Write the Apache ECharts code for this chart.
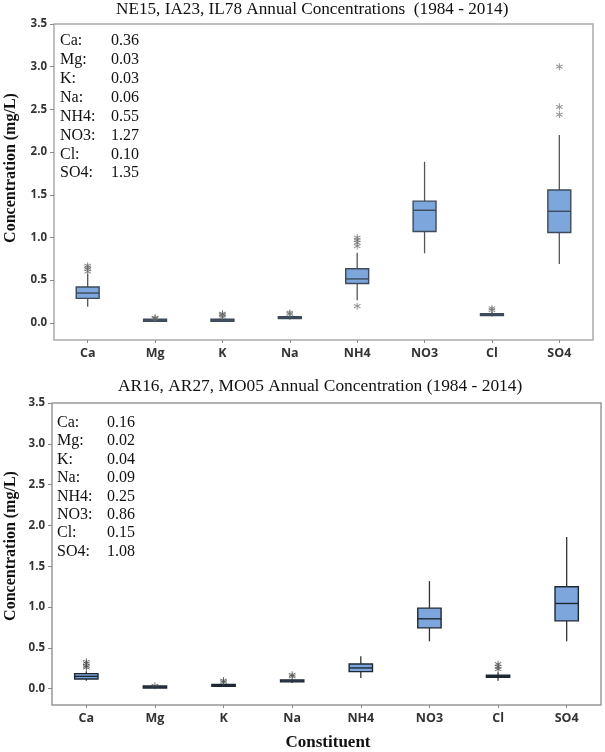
<!DOCTYPE html>
<html><head><meta charset="utf-8">
<script src="https://cdn.jsdelivr.net/npm/echarts@6/dist/echarts.min.js"></script>
<style>html,body{margin:0;padding:0;background:#fff}#c{width:605px;height:752px}</style>
</head><body><div id="c"></div>
<script>
const categories = ['Ca', 'Mg', 'K', 'Na', 'NH4', 'NO3', 'Cl', 'SO4'];
const yTicks = [0, 0.5, 1.0, 1.5, 2.0, 2.5, 3.0, 3.5];
const topTitle = 'NE15, IA23, IL78 Annual Concentrations  (1984 - 2014)';
const bottomTitle = 'AR16, AR27, MO05 Annual Concentration (1984 - 2014)';
const yName = 'Concentration (mg/L)';
const xName = 'Constituent';

// [low whisker, Q1, median, Q3, high whisker]
const topBoxes = [
  [0.19, 0.287, 0.35, 0.42, 0.58],
  [0.015, 0.025, 0.032, 0.04, 0.05],
  [0.02, 0.027, 0.032, 0.038, 0.05],
  [0.04, 0.052, 0.062, 0.075, 0.09],
  [0.264, 0.461, 0.515, 0.634, 0.823],
  [0.815, 1.071, 1.319, 1.426, 1.887],
  [0.075, 0.088, 0.097, 0.11, 0.13],
  [0.689, 1.059, 1.307, 1.556, 2.2]
];
const topOutliers = [
  [0, 0.6], [0, 0.63], [0, 0.65], [0, 0.67],
  [1, 0.05], [1, 0.055], [1, 0.06],
  [2, 0.07], [2, 0.09], [2, 0.1], [2, 0.11],
  [3, 0.106], [3, 0.12],
  [4, 0.9], [4, 0.94], [4, 0.97], [4, 1.0], [4, 0.196],
  [6, 0.15], [6, 0.17],
  [7, 2.44], [7, 2.53], [7, 3.0]
];
const topMeans = [0.36, 0.03, 0.03, 0.06, 0.55, 1.27, 0.10, 1.35];

const bottomBoxes = [
  [0.098, 0.119, 0.151, 0.184, 0.213],
  [0.01, 0.015, 0.02, 0.025, 0.03],
  [0.025, 0.032, 0.04, 0.046, 0.055],
  [0.07, 0.085, 0.095, 0.105, 0.12],
  [0.131, 0.209, 0.254, 0.303, 0.397],
  [0.581, 0.745, 0.856, 0.987, 1.318],
  [0.098, 0.139, 0.15, 0.165, 0.2],
  [0.581, 0.831, 1.044, 1.249, 1.859]
];
const bottomOutliers = [
  [0, 0.26], [0, 0.28], [0, 0.31], [0, 0.33],
  [1, 0.035],
  [2, 0.08], [2, 0.1],
  [3, 0.15], [3, 0.17],
  [6, 0.24], [6, 0.27], [6, 0.3]
];
const bottomMeans = [0.16, 0.02, 0.04, 0.09, 0.25, 0.86, 0.15, 1.08];

const SERIF = '"Liberation Serif", "Times New Roman", serif';
const SANS = '"Open Sans", "Noto Sans", sans-serif';
const STAR = 'path://M4.4 0L5.6 0L5.6 10L4.4 10Z M0.37 3.02L0.97 1.98L9.63 6.98L9.03 8.02Z M9.63 3.02L9.03 1.98L0.37 6.98L0.97 8.02Z';

function boxRender(st) {
  return function (params, api) {
    const i = api.value(0);
    const lo = api.coord([i, api.value(1)]);
    const q1 = api.coord([i, api.value(2)]);
    const md = api.coord([i, api.value(3)]);
    const q3 = api.coord([i, api.value(4)]);
    const hi = api.coord([i, api.value(5)]);
    const w = api.size([1, 0])[0] * 0.34;
    const x = lo[0];
    const h = Math.max(q1[1] - q3[1], 2);
    const top = q1[1] - q3[1] < 2 ? md[1] - 1 : q3[1];
    return {
      type: 'group',
      children: [
        { type: 'line', shape: { x1: x, y1: hi[1], x2: x, y2: top }, style: { stroke: st.whisker, lineWidth: 1.3 } },
        { type: 'line', shape: { x1: x, y1: top + h, x2: x, y2: lo[1] }, style: { stroke: st.whisker, lineWidth: 1.3 } },
        { type: 'rect', shape: { x: x - w / 2, y: top, width: w, height: h }, style: { fill: st.fill, stroke: st.border, lineWidth: 1.4 } },
        { type: 'line', shape: { x1: x - w / 2, y1: md[1], x2: x + w / 2, y2: md[1] }, style: { stroke: st.border, lineWidth: 1.4 } }
      ]
    };
  };
}

function meansText(means) {
  return categories.map((c, i) => '{a|' + c + ':}{b|' + means[i].toFixed(2) + '}').join('\n');
}

function yAxisFor(g) {
  return {
    type: 'value', gridIndex: g, min: -0.2, max: 3.5,
    axisLine: { show: false },
    splitLine: { show: false },
    axisTick: { show: true, length: 4, customValues: yTicks, lineStyle: { color: '#888' } },
    axisLabel: { customValues: yTicks, formatter: v => v.toFixed(1), margin: 7, color: '#333', fontFamily: SANS, fontWeight: 'bold', fontSize: 11.5 }
  };
}
function xAxisFor(g) {
  return {
    type: 'category', gridIndex: g, data: categories, boundaryGap: true, position: 'bottom',
    axisLine: { show: false, onZero: false },
    axisTick: { show: true, alignWithLabel: true, length: 3, lineStyle: { color: '#888' } },
    axisLabel: { margin: 7, color: '#333', fontFamily: SANS, fontWeight: 'bold', fontSize: 12.5 }
  };
}

const chart = echarts.init(document.getElementById('c'));
const richBase = { fontFamily: SERIF, fontSize: 16, fontWeight: 'normal', color: '#111' };
chart.setOption({
  animation: false,
  backgroundColor: '#fff',
  title: [
    { text: topTitle, left: 116, top: 1, padding: 0, textStyle: { fontFamily: SERIF, fontSize: 17.2, fontWeight: 'normal', color: '#111' } },
    { text: bottomTitle, left: 118, top: 378, padding: 0, textStyle: { fontFamily: SERIF, fontSize: 17.4, fontWeight: 'normal', color: '#111' } },
    { text: meansText(topMeans), left: 60, top: 31.5, padding: 0,
      textStyle: { fontWeight: 'normal', rich: { a: Object.assign({ width: 51, lineHeight: 18.9 }, richBase), b: Object.assign({ lineHeight: 18.9 }, richBase) } } },
    { text: meansText(bottomMeans), left: 57, top: 413.5, padding: 0,
      textStyle: { fontWeight: 'normal', rich: { a: Object.assign({ width: 50, lineHeight: 18.4 }, richBase), b: Object.assign({ lineHeight: 18.4 }, richBase) } } }
  ],
  grid: [
    { left: 54, right: 12, top: 24, height: 316, show: true, borderColor: '#aaa', borderWidth: 1.5, backgroundColor: 'transparent' },
    { left: 52, right: 4, top: 403, height: 302, show: true, borderColor: '#999', borderWidth: 1.5, backgroundColor: 'transparent' }
  ],
  xAxis: [xAxisFor(0), xAxisFor(1)],
  yAxis: [yAxisFor(0), yAxisFor(1)],
  graphic: [
    { type: 'text', x: 11, y: 168, rotation: Math.PI / 2, style: { text: yName, font: 'bold 16px ' + SERIF, fill: '#111', align: 'center', verticalAlign: 'middle' } },
    { type: 'text', x: 11, y: 546, rotation: Math.PI / 2, style: { text: yName, font: 'bold 16px ' + SERIF, fill: '#111', align: 'center', verticalAlign: 'middle' } },
    { type: 'text', x: 328, y: 743, style: { text: xName, font: 'bold 17px ' + SERIF, fill: '#111', align: 'center', verticalAlign: 'middle' } }
  ],
  series: [
    { type: 'custom', xAxisIndex: 0, yAxisIndex: 0, renderItem: boxRender({ fill: '#7da6dc', border: '#3d4a5a', whisker: '#555' }),
      encode: { x: 0, y: [1, 2, 3, 4, 5] }, data: topBoxes.map((b, i) => [i].concat(b)), z: 2 },
    { type: 'scatter', xAxisIndex: 0, yAxisIndex: 0, symbol: STAR, symbolSize: 7, itemStyle: { color: '#666' }, data: topOutliers, z: 3 },
    { type: 'custom', xAxisIndex: 1, yAxisIndex: 1, renderItem: boxRender({ fill: '#7da6dc', border: '#1e2833', whisker: '#333' }),
      encode: { x: 0, y: [1, 2, 3, 4, 5] }, data: bottomBoxes.map((b, i) => [i].concat(b)), z: 2 },
    { type: 'scatter', xAxisIndex: 1, yAxisIndex: 1, symbol: STAR, symbolSize: 7, itemStyle: { color: '#444' }, data: bottomOutliers, z: 3 }
  ]
});
</script></body></html>
